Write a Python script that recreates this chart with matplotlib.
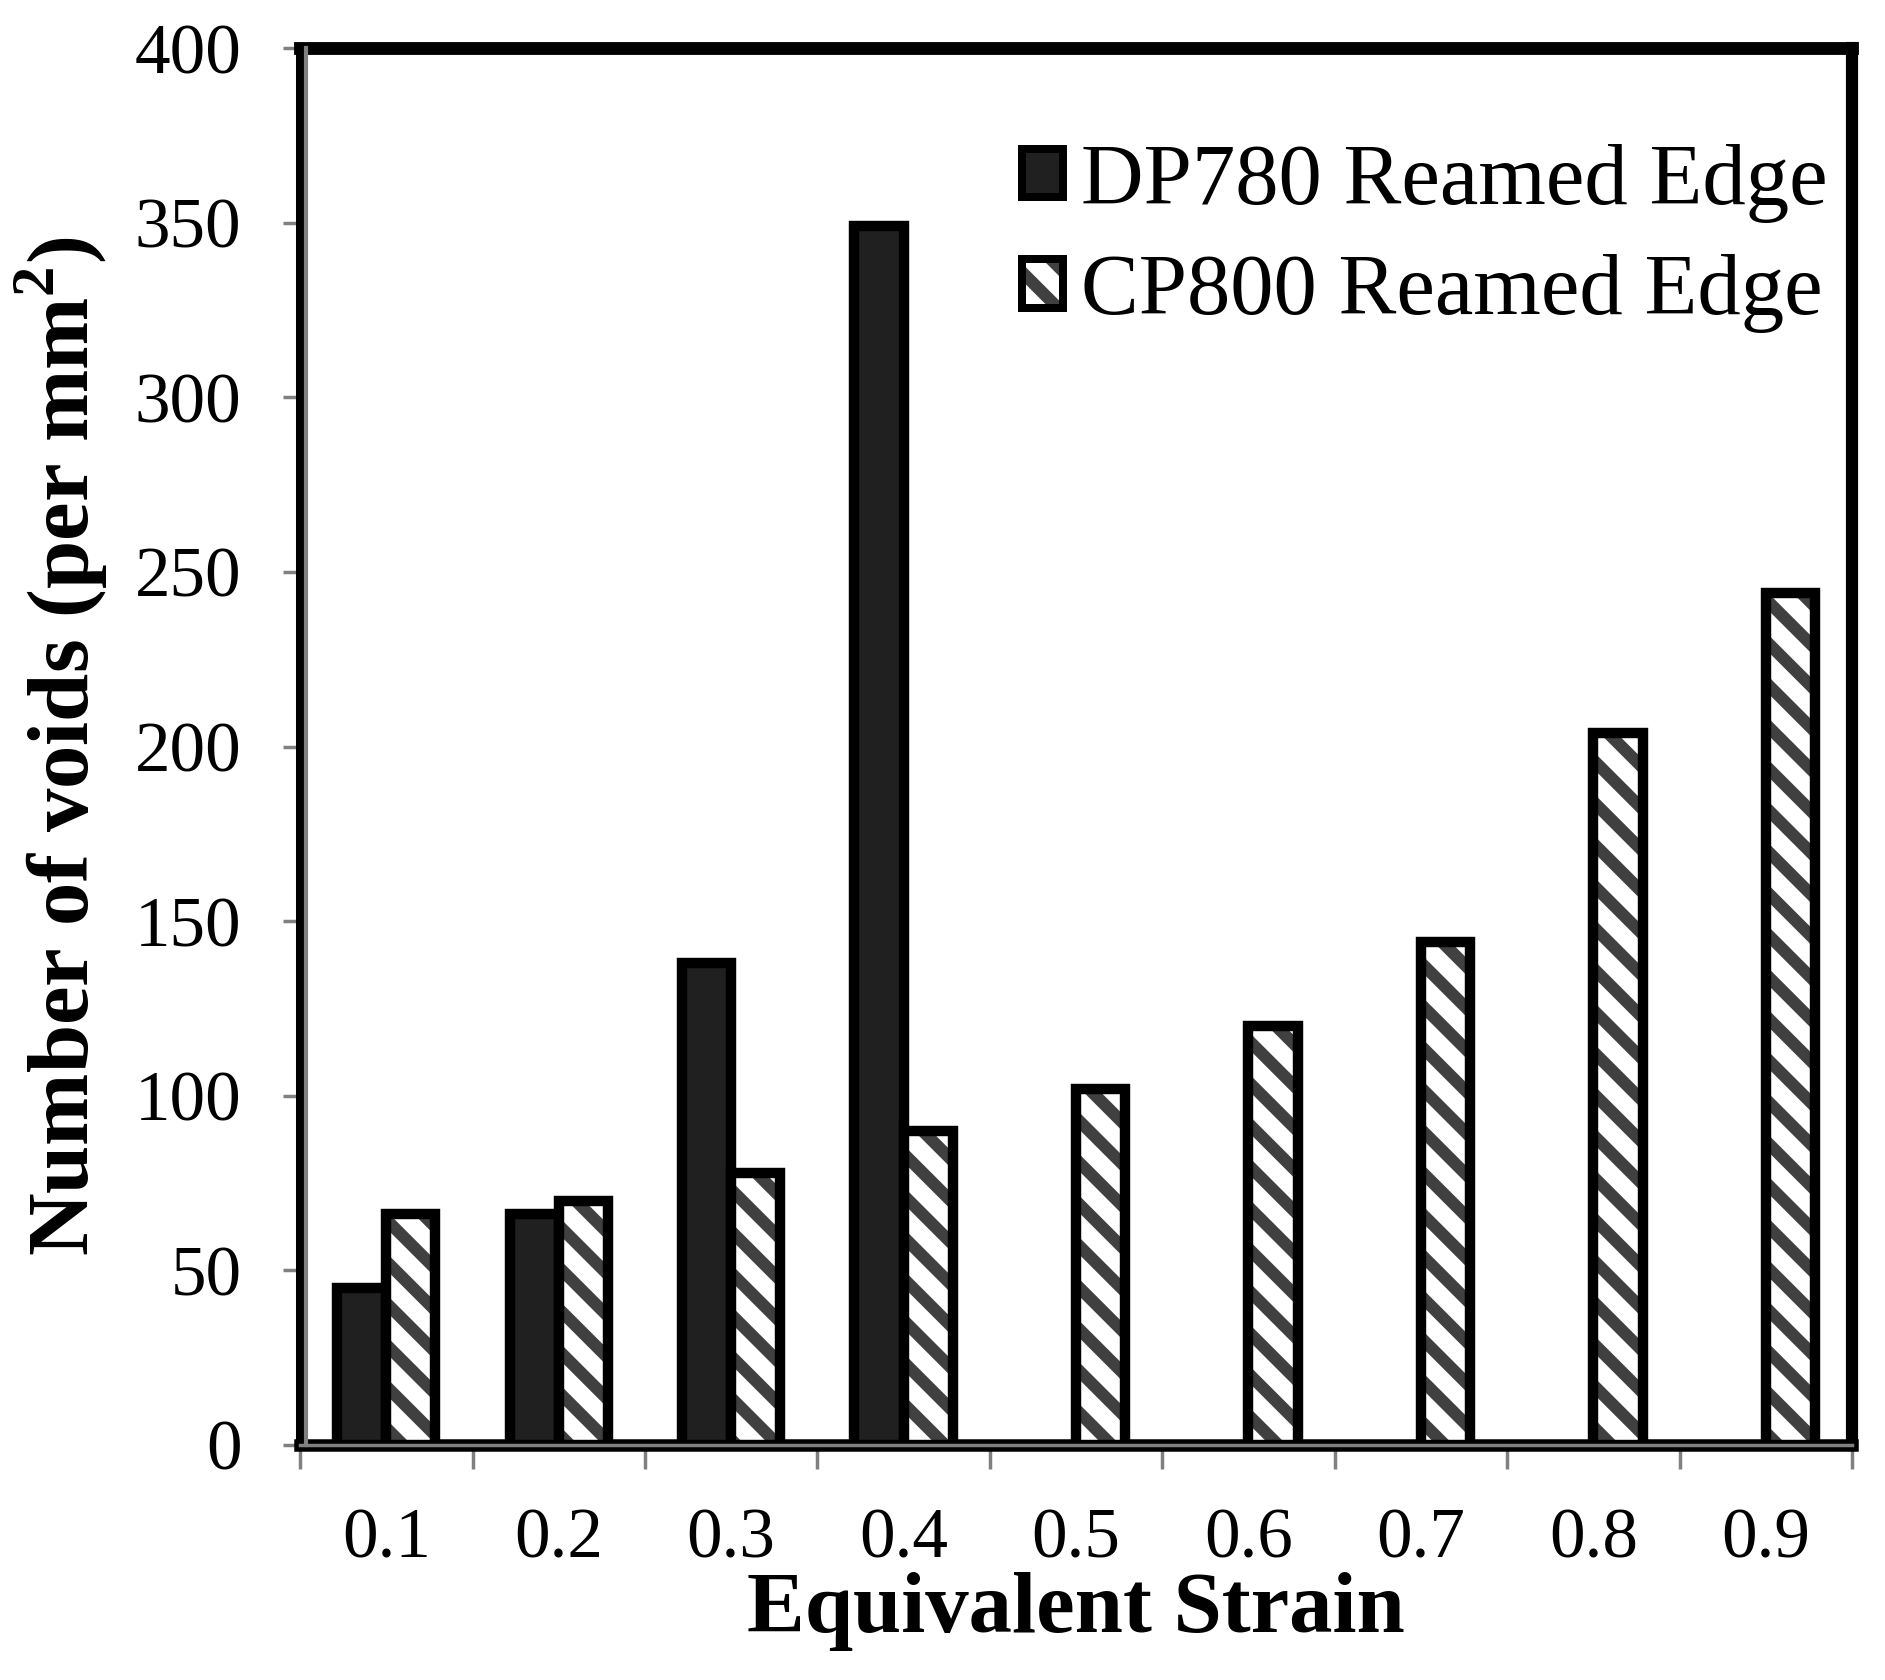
import matplotlib.pyplot as plt
from matplotlib.patches import Patch
from matplotlib.legend_handler import HandlerTuple
from matplotlib.transforms import offset_copy
import numpy as np

# Dati
strain = ["0.1", "0.2", "0.3", "0.4", "0.5", "0.6", "0.7", "0.8", "0.9"]
dp780 = [45, 66, 138, 349]
cp800 = [66, 70, 78, 90, 102, 120, 144, 204, 244]

plt.rcParams["font.family"] = ["Liberation Serif", "DejaVu Serif"]
plt.rcParams["hatch.linewidth"] = 3.5
plt.rcParams["mathtext.fontset"] = "custom"
plt.rcParams["mathtext.rm"] = "Liberation Serif"
plt.rcParams["mathtext.bf"] = "Liberation Serif:bold"

fig = plt.figure(figsize=(7.54, 6.72), dpi=250)
ax = fig.add_axes([0.1592, 0.1399, 0.8233, 0.8315])

x = np.arange(len(strain))
w = 0.285
edge_lw = 3.0
hatch_col = "#404040"

# DP780: barre scure
ax.bar(x[:len(dp780)] - w / 2, dp780, w, color="#202020",
       edgecolor="black", linewidth=edge_lw, zorder=3)

# CP800: tratteggio + contorno nero
ax.bar(x + w / 2, cp800, w, facecolor="white", edgecolor=hatch_col,
       hatch="\\\\", linewidth=0, zorder=3)
ax.bar(x + w / 2, cp800, w, fill=False, edgecolor="black",
       linewidth=edge_lw, zorder=4)

ax.set_xlim(-0.5, len(strain) - 0.5)
ax.set_ylim(0, 400)
ax.set_yticks(np.arange(0, 401, 50))

# tick maggiori ai confini, etichette ai centri
ax.set_xticks(np.arange(-0.5, len(strain)), labels=[])
ax.set_xticks(x, labels=strain, minor=True)
ax.tick_params(axis="x", which="major", direction="out", length=7,
               width=1.0, color="#808080")
ax.tick_params(axis="x", which="minor", length=0, pad=18, labelsize=20.5)
ax.tick_params(axis="y", direction="out", length=4.9, width=1.0,
               color="#808080", pad=12, labelsize=20.5)

spine_lw = {"left": 2.6, "bottom": 3.6, "top": 3.7, "right": 3.5}
for side, s in ax.spines.items():
    s.set_color("black")
    s.set_linewidth(spine_lw[side])

# linea grigia dell'asse (stile Excel)
ax.plot([0, 0], [0, 1], color="#808080", lw=1.2, clip_on=False, zorder=5,
        transform=offset_copy(ax.transAxes, fig, x=1.8, units="points"))
ax.plot([0, 1], [0, 0], color="#808080", lw=1.0, clip_on=False, zorder=5,
        transform=ax.transAxes)

ax.set_xlabel("Equivalent Strain", fontsize=25, fontweight="bold",
              labelpad=0)
ax.set_ylabel(r"Number of voids (per mm$^\mathbf{2}$)", fontsize=25,
              fontweight="bold", labelpad=7)

h1 = Patch(facecolor="#202020", edgecolor="black", linewidth=2.3)
h2a = Patch(facecolor="white", edgecolor=hatch_col, hatch="\\\\", linewidth=0)
h2b = Patch(fill=False, edgecolor="black", linewidth=2.3)
ax.legend([h1, (h2a, h2b)], ["DP780 Reamed Edge", "CP800 Reamed Edge"],
          handler_map={tuple: HandlerTuple(ndivide=1)},
          loc="upper right", frameon=False, fontsize=25,
          handlelength=0.48, handleheight=0.48, handletextpad=0.2,
          labelspacing=0.36, borderpad=0, borderaxespad=0,
          bbox_to_anchor=(0.984, 0.932))

fig.savefig("out.png", dpi=250)
